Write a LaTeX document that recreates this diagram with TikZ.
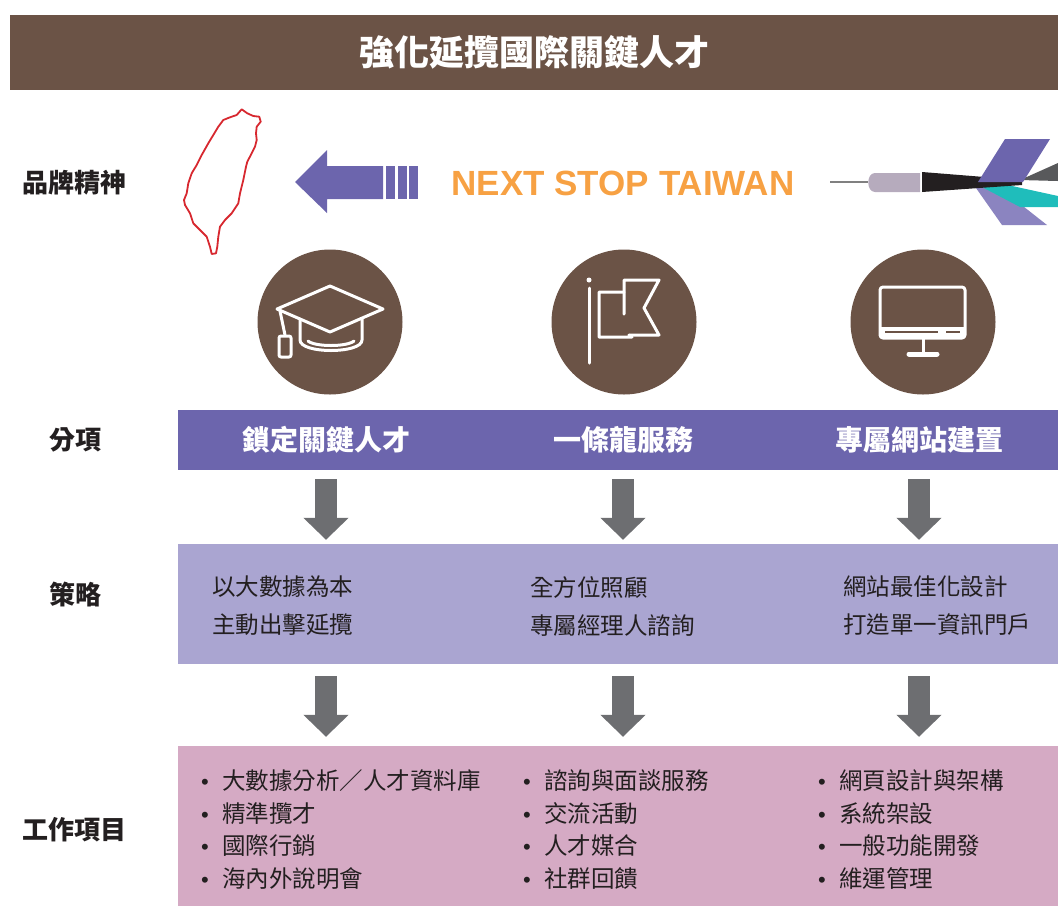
\documentclass[tikz,border=0pt]{standalone}
\usepackage{fontspec}
\newfontfamily\cjk{Noto Sans CJK TC}
\newfontfamily\latinsans{Liberation Sans}
\usetikzlibrary{arrows.meta}
\definecolor{brownbar}{HTML}{6B5346}
\definecolor{purplebar}{HTML}{6C65AD}
\definecolor{lilac}{HTML}{AAA5D1}
\definecolor{pinkband}{HTML}{D5AAC4}
\definecolor{arrowgray}{HTML}{6D6E71}
\definecolor{ink}{HTML}{231F20}
\definecolor{sloganorange}{HTML}{F7A143}
\definecolor{taiwanred}{HTML}{D7282F}
\definecolor{barrel}{HTML}{B6ABBD}
\definecolor{flightlight}{HTML}{8B84C0}
\definecolor{flightteal}{HTML}{1FBDBB}
\definecolor{flightgray}{HTML}{58595B}
\newcommand\workitem{\makebox[21pt][l]{\latinsans\fontsize{22}{22}\selectfont •}}

\begin{document}
\begin{tikzpicture}[x=1pt,y=-1pt,
    rowname/.style={font=\cjk\bfseries\fontsize{26}{26}\selectfont, text=ink},
    headtext/.style={font=\cjk\bfseries\fontsize{28}{28}\selectfont, text=white},
    strategy/.style={font=\cjk\fontsize{23.5}{38}\selectfont, text=ink, align=left, anchor=west, inner sep=0},
    worklist/.style={font=\cjk\fontsize{23.5}{32.5}\selectfont, text=ink, align=left, anchor=west, inner sep=0},
    band/.style={minimum width=880pt, inner sep=0},
    badge/.style={circle, fill=brownbar, minimum size=145pt, inner sep=0},
    flowarrow/.style={draw=arrowgray, line width=22pt, -{Triangle[width=44pt,length=22pt]}},
    icon/.style={draw=white, line width=3pt, line cap=round, line join=round}]
    \useasboundingbox (0,0) rectangle (1058,906);

    % title
    \fill[brownbar] (10,15) rectangle (1058,90);
    \node[font=\cjk\bfseries\fontsize{35}{35}\selectfont, text=white] (title) at (534,52) {強化延攬國際關鍵人才};

    % row names
    \node[rowname] (r1) at (75,183) {品牌精神};
    \node[rowname] (r2) at (75,440) {分項};
    \node[rowname] (r3) at (75,594) {策略};
    \node[rowname] (r4) at (75,830) {工作項目};

    % taiwan
    \draw[taiwanred, line width=1.8pt, line join=round]
        (241.7,109.3) -- (247.3,113.3) -- (253.3,116) -- (259.3,116.7) -- (260.7,121.7) -- (256.7,126.7)
        -- (256,133.3) -- (256.7,140) -- (255,146.7) -- (251.7,153.3) -- (247.3,161.7) -- (246,166.7)
        -- (243.3,180) -- (240,193.3) -- (238.3,203.3) -- (231.7,213.3) -- (225,220) -- (220,226.7)
        -- (218.3,236.7) -- (217.3,246.7) -- (216,253.3) -- (211.7,254) -- (210,246.7) -- (206.7,236.7)
        -- (200,230) -- (193.3,223.3) -- (190,213.3) -- (185,205) -- (184,200) -- (186.7,193.3)
        -- (188.3,183.3) -- (191.7,173.3) -- (196.7,165) -- (201.7,155) -- (208.3,143.3) -- (213.3,135)
        -- (218.3,126.7) -- (223.3,120) -- (230,117.3) -- (236.7,115) -- cycle;

    % big arrow
    \fill[purplebar] (295,182) -- (327,150) -- (327,166) -- (383,166) -- (383,199) -- (327,199) -- (327,213) -- cycle;
    \foreach \x in {386,397.5,409}
        \fill[purplebar] (\x,166) rectangle ++(9,33);

    \node[font=\latinsans\bfseries\fontsize{35}{35}\selectfont, text=sloganorange] (slogan) at (623,183) {NEXT STOP TAIWAN};

    % dart
    \draw[gray, line width=2.2pt] (830,182) -- (868,182);
    \fill[barrel] (920,173) -- (875,173) .. controls (866,173) and (866,192) .. (875,192) -- (920,192) -- cycle;
    \fill[flightgray] (1020,180) -- (1058,163) -- (1058,181) -- cycle;
    \fill[flightlight] (976,188) -- (1000,188) -- (1047,225) -- (1002,225) -- cycle;
    \fill[flightteal] (980,186) -- (1003,184) -- (1058,196) -- (1058,207) -- (1020,207) -- cycle;
    \fill[ink] (922,172) -- (1022,180) -- (1022,185) -- (922,192) -- cycle;
    \fill[purplebar] (978,182) -- (1005,139) -- (1050,139) -- (1023,182) -- cycle;

    % badges
    \node[badge] (c1) at (330,322) {};
    \node[badge] (c2) at (624,322) {};
    \node[badge] (c3) at (923,322) {};

    \begin{scope}[shift={(c1.center)}]
        \draw[icon] (-53,-13) -- (0,-36) -- (53,-13) -- (0,10) -- cycle;
        \draw[icon] (-30,-3) -- (-30,18) .. controls (-30,32) and (32,32) .. (32,18) -- (32,-3);
        \draw[icon] (-22,19) .. controls (-15,25) and (17,25) .. (24,19);
        \draw[icon] (-50,-11) -- (-45,13);
        \draw[icon, rounded corners=2pt] (-51,14) rectangle (-39,35);
    \end{scope}
    \begin{scope}[shift={(c2.center)}]
        \fill[white] (-35,-42) circle (2.5pt);
        \draw[icon] (-35,-34) -- (-35,41);
        \draw[icon] (0,-30) -- (-25,-30) -- (-25,15) -- (8,15) -- (5,13);
        \draw[icon] (0,-8) -- (0,-42) -- (35,-42) -- (20,-14) -- (35,13) -- (5,13);
    \end{scope}
    \begin{scope}[shift={(c3.center)}]
        \fill[white] (-43,4.5) rectangle (42,16);
        \draw[icon, rounded corners=3pt] (-43,-35) rectangle (42,16);
        \draw[brownbar, line width=2pt] (-38,9.5) -- (15,9.5) (23,9.5) -- (37,9.5);
        \draw[icon] (0,16) -- (0,30);
        \draw[icon, line width=5pt] (-14,32) -- (14,32);
    \end{scope}

    % bands
    \node[band, fill=purplebar, minimum height=60pt] (heads) at (618,440) {};
    \node[band, fill=lilac, minimum height=120pt] (strat) at (618,604) {};
    \node[band, fill=pinkband, minimum height=160pt] (works) at (618,826) {};

    \node[headtext] (h1) at (326,440) {鎖定關鍵人才};
    \node[headtext] (h2) at (623,440) {一條龍服務};
    \node[headtext] (h3) at (919,440) {專屬網站建置};

    \node[strategy] (s1) at (212,606) {以大數據為本\\主動出擊延攬};
    \node[strategy] (s2) at (530,606) {全方位照顧\\專屬經理人諮詢};
    \node[strategy] (s3) at (843,606) {網站最佳化設計\\打造單一資訊門戶};

    \node[worklist] (w1) at (201,829.5) {\workitem 大數據分析／人才資料庫\\\workitem 精準攬才\\\workitem 國際行銷\\\workitem 海內外說明會};
    \node[worklist] (w2) at (523,829.5) {\workitem 諮詢與面談服務\\\workitem 交流活動\\\workitem 人才媒合\\\workitem 社群回饋};
    \node[worklist] (w3) at (818,829.5) {\workitem 網頁設計與架構\\\workitem 系統架設\\\workitem 一般功能開發\\\workitem 維運管理};

    % arrows
    \foreach \h in {h1,h2,h3} {
        \draw[flowarrow, shorten <=9pt, shorten >=4pt] (\h |- heads.south) -- (\h |- strat.north);
        \draw[flowarrow, shorten <=12pt, shorten >=9pt] (\h |- strat.south) -- (\h |- works.north);
    }
\end{tikzpicture}
\end{document}
